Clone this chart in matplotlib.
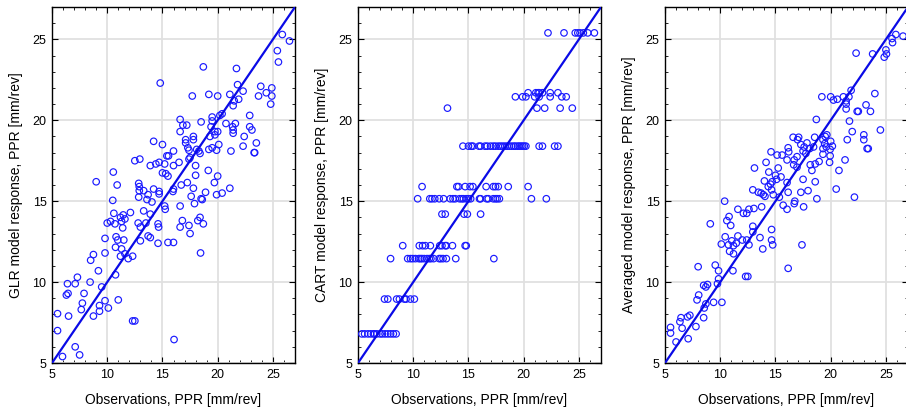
import numpy as np
import matplotlib.pyplot as plt
from matplotlib.ticker import MultipleLocator

plt.rcParams['font.family'] = ['Liberation Sans', 'DejaVu Sans']

# GLR model vs observations
glr_x = [25.85, 26.5, 25.4, 25.5, 18.7, 21.7, 14.8, 21.8, 23.9, 24.9, 22.3, 24.4, 21.1, 19.2, 20.0,
         17.7, 23.7, 24.9, 21.9, 21.5, 21.4, 24.8, 22.9, 20.4, 20.2,
         16.6, 18.5, 19.5, 19.5, 21.6, 20.75, 22.9, 23.1, 21.35, 21.4, 21.4,
         17.2, 16.85, 16.6, 20.0, 19.75, 19.4, 19.75, 19.3, 22.4, 23.5,
         17.1, 17.1, 17.8, 17.8, 14.2, 15.0,
         20.1, 19.5, 19.9, 19.2, 21.2, 22.3, 23.3, 23.35,
         16.0, 17.3, 17.4, 18.3, 18.1, 18.4, 17.5, 17.4,
         15.4, 15.55, 14.4, 13.9, 14.7, 15.2, 16.0, 16.5, 15.0, 15.3, 15.5, 12.5, 12.95, 10.55, 9.0, 10.9,
         18.0, 18.0, 19.15, 20.0, 17.25, 16.7, 16.0, 15.95, 17.8, 18.9, 19.7, 19.9, 20.4, 21.1, 17.6, 18.5, 18.6,
         12.85, 12.9, 12.9, 13.3, 14.2, 14.7, 14.7, 12.85, 13.6, 13.7, 14.05, 15.2, 15.25, 13.9,
         17.9, 16.6, 18.4, 18.2, 18.7, 16.8, 17.4, 16.6, 17.5, 14.6, 14.65, 13.5, 13.7, 13.9, 14.6, 15.5, 16.0, 18.45,
         10.5, 10.6, 10.7, 10.0, 10.3, 11.2, 11.45, 11.6, 11.3, 11.4, 12.1, 12.8, 13.0, 13.3, 10.8, 10.95, 11.5,
         9.8, 10.75, 11.3, 11.2, 11.9, 12.3, 11.6, 13.0, 9.8, 8.75, 8.5, 10.75, 9.2, 9.5,
         8.45, 7.3, 6.4, 7.1, 6.3, 6.45, 7.9, 7.75, 7.65, 8.75, 9.3, 9.3, 9.8, 10.1, 11.0, 6.5, 5.5, 5.5,
         5.95, 7.1, 7.5, 12.3, 12.5, 16.05]
glr_y = [25.3, 24.9, 24.3, 23.6, 23.3, 23.2, 22.3, 22.2, 22.1, 22.0, 21.8, 21.7, 21.6, 21.6, 21.5,
         21.5, 21.5, 21.5, 21.3, 21.2, 20.9, 21.0, 20.3, 20.4, 20.3,
         20.05, 19.9, 20.2, 19.96, 19.8, 19.8, 19.6, 19.4, 19.6, 19.4, 19.2,
         19.7, 19.7, 19.3, 19.3, 19.3, 19.6, 19.1, 19.0, 19.0, 18.6,
         18.8, 18.6, 19.0, 18.8, 18.7, 18.5,
         18.5, 18.3, 18.15, 18.2, 18.1, 18.4, 18.0, 18.0,
         18.1, 18.3, 18.15, 18.1, 18.2, 17.95, 17.7, 17.6,
         17.8, 17.8, 17.3, 17.2, 17.4, 17.3, 17.2, 17.4, 16.75, 16.7, 16.55, 17.5, 17.6, 16.8, 16.2, 16.0,
         17.2, 16.6, 16.9, 16.55, 16.15, 16.0, 15.75, 15.6, 15.8, 15.55, 16.15, 15.4, 15.5, 15.8, 15.3, 15.15, 15.1,
         16.1, 15.9, 15.65, 15.65, 15.75, 15.6, 15.45, 15.25, 15.1, 15.4, 14.95, 14.7, 14.5, 14.2,
         14.85, 14.7, 14.0, 13.8, 13.6, 13.8, 13.5, 13.4, 13.0, 13.6, 13.4, 13.65, 12.85, 12.75, 12.4, 12.45, 12.45, 11.8,
         15.05, 14.25, 13.6, 13.65, 13.75, 14.0, 14.15, 13.9, 13.75, 13.35, 14.3, 13.65, 13.4, 14.4, 12.8, 12.6, 12.6,
         12.7, 12.15, 12.05, 11.6, 11.45, 11.6, 11.75, 12.55, 11.8, 11.7, 11.35, 10.45, 10.7, 9.7,
         10.0, 10.3, 9.9, 9.9, 9.2, 9.3, 9.3, 8.7, 8.3, 7.9, 8.55, 8.2, 8.85, 8.4, 8.9, 7.9, 8.05, 7.0,
         5.4, 6.0, 5.5, 7.6, 7.6, 6.45]

# CART model vs observations (discrete response levels)
cart_x = [22.2, 23.65, 24.67, 24.9, 25.1, 25.4, 25.8, 26.4,
          20.4, 21.1, 21.3, 21.4, 21.7, 22.4, 23.1,
          19.25, 19.9, 20.2, 21.0, 21.4, 22.4, 23.45, 23.85,
          13.1, 21.2, 21.9, 23.3, 24.4,
          14.5, 15.0, 15.25, 15.4, 15.95, 16.1, 16.5, 16.7, 17.0, 17.25, 17.45, 17.7, 17.9, 18.1, 18.3,
          18.5, 18.7, 18.9, 19.1, 19.25, 19.45, 19.6, 19.75, 19.9, 20.05, 20.2, 21.4, 21.7, 22.8, 23.1,
          10.8, 13.95, 14.1, 14.7, 15.15, 15.4, 16.6, 17.25, 17.45, 17.7, 18.6, 20.4,
          10.4, 11.5, 11.7, 11.95, 12.35, 12.75, 13.35, 13.6, 13.8, 14.2, 14.4, 14.55, 14.8, 15.0, 15.2,
          16.0, 16.1, 16.65, 16.8, 17.25, 17.45, 17.6, 17.8, 20.7, 22.05,
          12.6, 12.9, 14.6, 14.9, 16.1,
          9.05, 10.55, 10.85, 11.1, 11.55, 12.4, 12.6, 12.9, 13.0, 13.55, 14.7, 14.8,
          7.95, 9.5, 9.75, 9.95, 10.2, 10.5, 10.65, 10.8, 11.0, 11.25, 11.45, 11.6, 11.85, 12.35, 12.5,
          12.7, 13.0, 13.85, 17.3,
          7.4, 7.7, 8.5, 8.75, 9.2, 9.35, 9.75, 10.1,
          5.35, 5.6, 5.9, 6.15, 6.4, 6.5, 6.7, 7.0, 7.2, 7.45, 7.7, 7.95, 8.2, 8.45]
cart_y = [25.4] * 8 + [21.7] * 7 + [21.45] * 8 + [20.75] * 5 + [18.4] * 30 + [15.9] * 12 \
    + [15.15] * 25 + [14.2] * 5 + [12.25] * 12 + [11.45] * 19 + [8.95] * 8 + [6.8] * 14

# Averaged model vs observations
avg_x = [26.55, 25.9, 25.55, 25.6, 25.0, 25.05, 24.85, 23.8, 22.3,
         19.2, 20.0, 21.15, 20.25, 20.6, 21.65, 21.4, 21.85, 24.0, 21.4, 23.2, 21.4, 22.4, 22.5, 23.6,
         18.7, 21.7, 21.95, 21.5, 23.0, 23.0, 23.3, 23.4, 24.5, 21.3, 20.75, 20.5, 22.15, 18.75,
         16.6, 17.0, 17.1, 17.3, 17.6, 17.85, 17.5, 17.75, 18.1, 18.45, 18.55, 19.3, 19.5, 19.65, 19.45,
         19.3, 19.6, 20.0, 20.15, 19.95, 19.3, 19.95, 19.9, 18.95, 18.6, 18.15, 18.3, 18.6, 16.95, 16.7,
         16.65, 16.95, 17.5, 16.2, 16.15, 14.6, 15.15, 15.6, 16.05,
         14.15, 13.1, 15.25, 14.4, 15.5, 15.0, 15.1, 14.7, 14.0, 14.55, 16.05, 16.15, 15.7, 16.05, 16.7,
         16.75, 17.3, 17.55, 17.95, 15.35, 12.95, 13.45, 13.7, 13.9, 14.05, 14.8, 14.65, 14.35,
         10.4, 11.6, 12.1, 12.4, 12.6, 13.05, 13.75, 9.1, 10.6, 10.8, 10.95, 12.95, 12.95, 14.65, 13.6,
         14.65, 14.75, 13.85, 17.4, 16.15, 10.45, 10.1, 10.75, 11.05, 11.2, 11.45, 11.6, 10.85, 11.2,
         12.0, 12.4, 12.6, 11.15, 12.3, 12.5,
         9.55, 9.85, 9.85, 9.75, 10.15, 9.4, 8.0, 8.7, 8.85, 8.5, 8.05, 7.9, 8.55, 8.7, 8.5, 7.25, 7.05,
         6.45, 6.35, 6.55, 7.8, 7.1, 6.0, 5.5, 5.5]
avg_y = [25.2, 25.3, 25.05, 24.8, 24.35, 24.1, 23.9, 24.1, 24.15,
         21.45, 21.45, 21.45, 21.25, 21.3, 21.45, 21.2, 21.85, 21.65, 21.0, 20.95, 20.7, 20.55, 20.55, 20.55,
         20.05, 19.95, 19.3, 18.8, 19.1, 18.8, 18.25, 18.25, 19.4, 17.55, 16.9, 15.75, 15.25, 15.15,
         18.95, 18.8, 18.95, 18.5, 18.35, 18.6, 18.1, 17.95, 18.25, 18.35, 18.95, 18.8, 19.0, 19.1, 18.55,
         18.25, 18.35, 18.7, 18.4, 18.2, 17.9, 17.8, 17.4, 17.45, 17.3, 17.25, 16.9, 16.2, 17.75, 17.55,
         17.25, 17.1, 16.35, 18.05, 18.3, 18.05, 17.85, 17.85, 17.55,
         17.4, 17.05, 17.05, 16.8, 16.5, 16.6, 16.35, 16.2, 16.25, 16.05, 16.15, 15.55, 14.75, 14.5, 14.85,
         15.0, 15.55, 14.65, 15.65, 15.25, 15.7, 15.55, 15.5, 15.4, 15.3, 15.4, 15.7, 15.9,
         15.0, 14.5, 14.25, 14.25, 14.5, 14.55, 14.65, 13.6, 13.8, 14.05, 13.5, 13.45, 13.1, 13.25, 12.75,
         12.6, 12.3, 12.05, 12.3, 10.85, 12.8, 12.35, 12.3, 12.55, 12.25, 12.4, 12.85, 11.9, 11.75,
         12.6, 12.6, 12.3, 10.7, 10.35, 10.35,
         11.05, 10.7, 10.2, 9.9, 8.75, 8.75, 10.95, 9.7, 9.85, 9.8, 9.2, 8.9, 8.4, 8.65, 7.8, 7.95, 7.85,
         7.8, 7.55, 7.15, 7.25, 6.5, 6.3, 7.2, 6.85]

panels = [
    (glr_x, glr_y, 'GLR model response, PPR [mm/rev]'),
    (cart_x, cart_y, 'CART model response, PPR [mm/rev]'),
    (avg_x, avg_y, 'Averaged model response, PPR [mm/rev]'),
]
lefts = [52 / 906, 358 / 906, 665 / 906]

fig = plt.figure(figsize=(9.06, 4.19), dpi=100)
for left, (xs, ys, ylab) in zip(lefts, panels):
    ax = fig.add_axes([left, 56 / 419, 243 / 906, 356 / 419])
    ax.set_xlim(5, 27)
    ax.set_ylim(5, 27)
    ax.grid(True, color='#e0e0e0', linewidth=1.3, zorder=0)
    ax.set_axisbelow(True)
    ax.scatter(xs, ys, s=22, facecolors='none', edgecolors='#1a1aff', linewidths=0.85, zorder=3)
    ax.axline((5, 5), slope=1, color='#0a0ae6', linewidth=1.6, zorder=4)
    ax.xaxis.set_major_locator(MultipleLocator(5))
    ax.yaxis.set_major_locator(MultipleLocator(5))
    ax.xaxis.set_minor_locator(MultipleLocator(1))
    ax.yaxis.set_minor_locator(MultipleLocator(1))
    ax.tick_params(which='both', direction='in', top=True, right=True, labelsize=9, pad=4)
    ax.tick_params(which='major', length=4, width=0.8)
    ax.tick_params(which='minor', length=2.5, width=0.6)
    for sp in ax.spines.values():
        sp.set_linewidth(1.0)
    ax.set_xlabel('Observations, PPR [mm/rev]', fontsize=10, labelpad=9)
    ax.set_ylabel(ylab, fontsize=10, labelpad=7)

fig.savefig('out.png', dpi=100)
